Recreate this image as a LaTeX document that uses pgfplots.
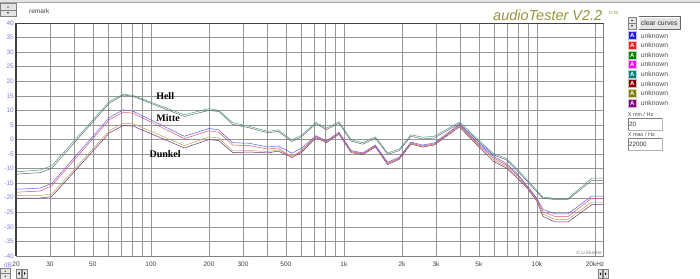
\documentclass[border=0pt]{standalone}
\usepackage{fontspec}
\setmainfont{Liberation Sans}
\newfontfamily\serifb{Liberation Serif}
\usepackage{pgfplots}
\usepackage{pgfplotstable}
\pgfplotsset{compat=1.18}
\definecolor{tickblue}{RGB}{128,128,222}
\definecolor{gridc}{RGB}{150,150,150}
\definecolor{hA}{RGB}{70,160,140}
\definecolor{hB}{RGB}{110,100,110}
\definecolor{mA}{RGB}{90,90,240}
\definecolor{mB}{RGB}{230,80,110}
\definecolor{dA}{RGB}{180,165,90}
\definecolor{dB}{RGB}{110,50,110}
\definecolor{logo}{RGB}{150,150,60}
\definecolor{btn}{RGB}{228,228,228}
\definecolor{lg1}{RGB}{30,30,230}
\definecolor{lg2}{RGB}{240,30,30}
\definecolor{lg3}{RGB}{0,128,0}
\definecolor{lg4}{RGB}{255,0,255}
\definecolor{lg5}{RGB}{0,128,128}
\definecolor{lg6}{RGB}{128,0,0}
\definecolor{lg7}{RGB}{128,128,0}
\definecolor{lg8}{RGB}{128,0,128}
\pgfplotstableread{
f      h1     h2     m1     m2     d1     d2
20    -11.1  -11.9  -17.1  -18.1  -19.3  -20.2
26.6  -10.5  -11.4  -16.7  -17.7  -19.2  -20.1
30.6  -9.0   -9.9   -15.1  -15.9  -18.8  -19.6
61     13.1   12.5    7.6    6.8    3.1    2.3
72     15.6   15.3   10.2    9.4    5.6    4.8
81     15.1   14.8    9.7    9.0    5.4    4.6
149    8.5    7.9     1.1    0.3   -2.1   -2.9
200    10.6   10.0    3.8    3.0    0.9    0.0
225    10.0   9.6     3.3    2.5    0.5   -0.4
265    5.8    5.2    -1.1   -1.9   -3.9   -4.5
324    4.5    4.0    -1.3   -2.1   -3.8   -4.3
404    2.8    2.3    -2.6   -3.3   -4.1   -4.6
456    3.3    2.8    -2.2   -2.9   -3.6   -4.0
537   -0.2   -0.7    -4.7   -6.3   -5.6   -6.1
602    1.4    0.9    -3.0   -3.8   -4.1   -4.5
716    5.9    5.4     1.3    1.0    0.8    0.6
812    3.9    3.4    -0.4   -0.7   -0.9   -1.1
943    6.1    5.6     2.5    2.2    2.0    1.8
1090  -0.1   -0.6    -3.8   -4.1   -4.3   -4.5
1252  -1.1   -1.6    -4.6   -4.9   -5.0   -5.2
1456   0.9    0.4    -1.9   -2.2   -2.4   -2.6
1684  -4.6   -5.1    -7.8   -8.2   -8.3   -8.6
1936  -3.3   -3.8    -6.1   -6.4   -6.6   -6.8
2226   1.6    1.1    -0.9   -1.2   -1.4   -1.6
2556   0.8    0.2    -1.9   -2.2   -2.4   -2.6
2938   1.1    0.5    -1.2   -1.5   -1.7   -1.9
3970   6.0    5.5     5.2    4.9    4.6    4.3
5044  -0.5   -1.0    -1.6   -2.0   -2.4   -2.8
5916  -4.7   -5.2    -5.6   -6.2   -6.8   -7.4
6946  -6.5   -7.0    -8.3   -8.8   -9.3   -9.8
7820  -9.8   -10.4  -11.4  -11.9  -12.4  -12.9
8800  -13.5  -14.0  -15.5  -15.8  -16.0  -16.3
9940  -17.3  -17.8  -20.0  -20.3  -20.6  -20.9
10760 -19.8  -20.2  -24.0  -24.8  -25.6  -26.4
12380 -20.2  -20.6  -25.5  -26.4  -27.4  -28.3
14520 -20.2  -20.6  -25.5  -26.4  -27.4  -28.3
19200 -13.3  -14.1  -19.4  -20.2  -21.5  -22.4
22000 -13.3  -14.1  -19.4  -20.2  -21.5  -22.4
}\datatable
\begin{document}
\begin{tikzpicture}
\useasboundingbox (0,0) rectangle (700bp,279bp);
\fill[white] (0,0) rectangle (700bp,279bp);
\begin{axis}[
  at={(16bp,23bp)}, anchor=south west, scale only axis,
  width=587bp, height=233bp,
  xmode=log, xmin=20, xmax=22000, ymin=-40, ymax=40,
  xtick={20,30,50,100,200,300,500,1000,2000,3000,5000,10000,20000},
  xticklabels={20,30,50,100,200,300,500,1k,2k,3k,5k,10k,20kHz},
  minor xtick={40,60,70,80,90,400,600,700,800,900,4000,6000,7000,8000,9000},
  ytick={-40,-35,...,40},
  yticklabels={-40,-35,-30,-25,-20,-15,-10,-5,0,5,10,15,20,25,30,35,40},
  grid=both,
  major grid style={draw=gridc, line width=0.5bp},
  minor grid style={draw=gridc, line width=0.5bp},
  major tick length=0pt, minor tick length=0pt,
  axis line style={draw=gray, line width=0.6bp},
  xticklabel style={font=\fontsize{6.5bp}{7bp}\selectfont, text=darkgray, anchor=north, inner sep=0pt, yshift=-5.5bp},
  yticklabel style={font=\fontsize{6.5bp}{7bp}\selectfont, text=tickblue, anchor=east, inner sep=0pt, xshift=-2bp},
  /pgf/number format/assume math mode=true,
]
\addplot[color=dB, line width=0.5bp] table[x=f,y=d2]{\datatable};
\addplot[color=dA, line width=0.5bp] table[x=f,y=d1]{\datatable};
\addplot[color=mB, line width=0.5bp] table[x=f,y=m2]{\datatable};
\addplot[color=mA, line width=0.5bp] table[x=f,y=m1]{\datatable};
\addplot[color=hB, line width=0.5bp] table[x=f,y=h2]{\datatable};
\addplot[color=hA, line width=0.5bp] table[x=f,y=h1]{\datatable};
\node[font=\serifb\bfseries\fontsize{10bp}{10bp}\selectfont] at (axis cs:118.5,14.9) {Hell};
\node[font=\serifb\bfseries\fontsize{10bp}{10bp}\selectfont] at (axis cs:122.8,7.5) {Mitte};
\node[font=\serifb\bfseries\fontsize{10bp}{10bp}\selectfont] at (axis cs:118.5,-5.0) {Dunkel};
\end{axis}
\begin{scope}[x=1bp,y=-1bp,shift={(0,279bp)}]
  % plot frame emphasis
  \draw[line width=1.2bp, draw=black!75] (16,256) -- (16,23.3) -- (603.5,23.3);
  % top window strip
  \fill[btn] (0,0) rectangle (700,2);
  \draw[gray!70] (0,2) -- (700,2);
  % top-left spinner
  \draw[fill=btn, draw=gray] (0.5,3.5) rectangle (16,16.5);
  \draw[gray] (0.5,10) -- (16,10);
  \fill[black] (7,7.5) -- (9,7.5) -- (8,6.3) -- cycle;
  \fill[black] (7,12.5) -- (9,12.5) -- (8,13.7) -- cycle;
  \node[anchor=west, inner sep=0pt, font=\fontsize{6.5bp}{7bp}\selectfont, text=darkgray] at (29,11) {remark};
  % logo
  \node[anchor=base west, inner sep=0pt, font=\itshape\fontsize{14.5bp}{15bp}\selectfont, text=logo] at (493,20.5) {audioTester V2.2};
  \node[anchor=base west, inner sep=0pt, font=\itshape\fontsize{4.5bp}{5bp}\selectfont, text=logo] at (609,15) {D bit};
  % right spinner and button
  \draw[fill=btn, draw=gray] (628,17) rectangle (636,29.5);
  \draw[gray] (628,23.2) -- (636,23.2);
  \fill[black] (631,21) -- (633,21) -- (632,19.8) -- cycle;
  \fill[black] (631,25.5) -- (633,25.5) -- (632,26.7) -- cycle;
  \draw[fill=btn, draw=gray!80!black] (638.7,16.7) rectangle (680,29.5);
  \draw[white] (639.3,29) -- (639.3,17.3) -- (679.4,17.3);
  \node[inner sep=0pt, font=\fontsize{6.8bp}{7bp}\selectfont, text=black!80] at (659.3,23.2) {clear curves};
  % legend entries
  \foreach \c [count=\i] in {lg1,lg2,lg3,lg4,lg5,lg6,lg7,lg8} {
    \pgfmathsetmacro{\yy}{35.7+9.6*(\i-1)}
    \fill[\c] (628,\yy-4.3) rectangle (636.7,\yy+4.3);
    \draw[white!70!\c, line width=0.4bp] (628.3,\yy-4) rectangle (636.4,\yy+4);
    \node[inner sep=0pt, font=\bfseries\fontsize{6bp}{6bp}\selectfont, text=white] at (632.35,\yy+0.2) {A};
    \node[anchor=west, inner sep=0pt, font=\fontsize{6.8bp}{7bp}\selectfont, text=black!70] at (640.7,\yy) {unknown};
  }
  % x min / x max
  \node[anchor=west, inner sep=0pt, font=\fontsize{5.5bp}{6bp}\selectfont, text=black!70] at (627.7,114.5) {X min / Hz};
  \draw[fill=white, draw=gray!60] (627.7,118.3) rectangle (662.3,130);
  \draw[gray] (627.7,130) -- (627.7,118.3) -- (662.3,118.3);
  \node[anchor=west, inner sep=0pt, font=\fontsize{6.3bp}{7bp}\selectfont, text=black!80] at (629,124.3) {20};
  \node[anchor=west, inner sep=0pt, font=\fontsize{5.5bp}{6bp}\selectfont, text=black!70] at (627.7,134.5) {X max / Hz};
  \draw[fill=white, draw=gray!60] (627.7,138.3) rectangle (662.3,150);
  \draw[gray] (627.7,150) -- (627.7,138.3) -- (662.3,138.3);
  \node[anchor=west, inner sep=0pt, font=\fontsize{6.3bp}{7bp}\selectfont, text=black!80] at (629,144.3) {22000};
  % dB label and copyright
  \node[anchor=east, inner sep=0pt, font=\fontsize{6.5bp}{7bp}\selectfont, text=tickblue] at (12.3,264.8) {dB};
  \node[anchor=east, inner sep=0pt, font=\fontsize{4.8bp}{5bp}\selectfont, text=gray] at (602,252.3) {\textcopyright\ U.Mueller};
  % bottom-left widgets
  \draw[fill=btn, draw=gray] (0.5,268.5) rectangle (10,279);
  \draw[gray] (0.5,273.7) -- (10,273.7);
  \fill[black] (4.5,271.7) -- (6,271.7) -- (5.25,270.6) -- cycle;
  \fill[black] (4.5,276) -- (6,276) -- (5.25,277.1) -- cycle;
  \draw[fill=btn, draw=gray] (16.5,269) rectangle (21,278);
  \fill[black] (19.5,272) -- (19.5,275) -- (18,273.5) -- cycle;
  \draw[fill=btn, draw=gray] (22.5,269) rectangle (27,278);
  \fill[black] (24,272) -- (24,275) -- (25.5,273.5) -- cycle;
  % bottom-right widgets
  \draw[fill=btn, draw=gray] (598,269.5) rectangle (602.5,278.5);
  \fill[black] (601,272.5) -- (601,275.5) -- (599.5,274) -- cycle;
  \draw[fill=btn, draw=gray] (603.5,269.5) rectangle (608,278.5);
  \fill[black] (605,272.5) -- (605,275.5) -- (606.5,274) -- cycle;
\end{scope}
\end{tikzpicture}
\end{document}
